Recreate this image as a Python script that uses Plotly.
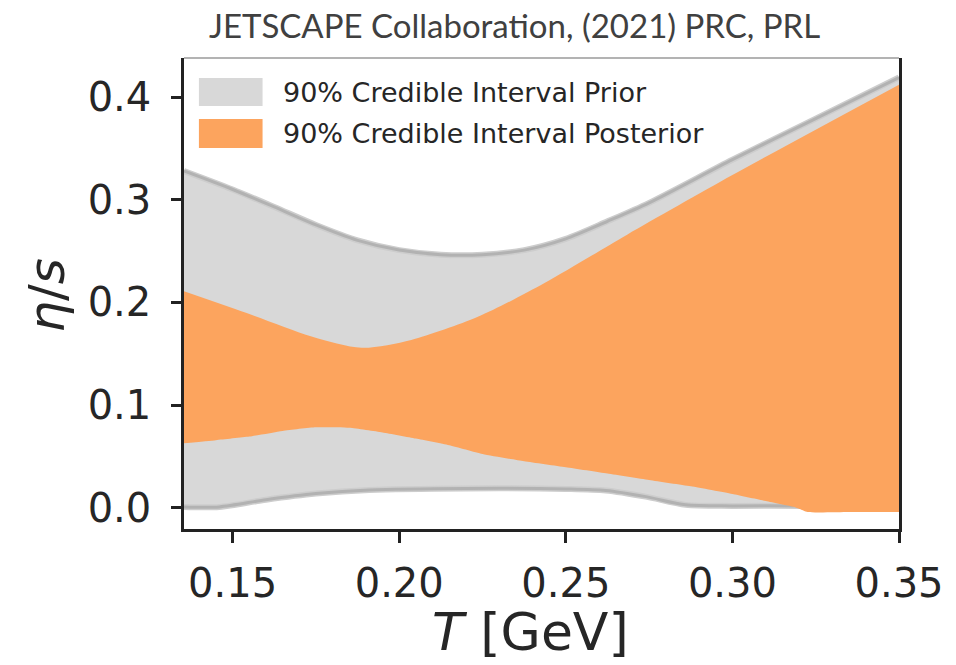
import plotly.graph_objects as go

# ---- data ----
T_prior_up = [0.1354, 0.15, 0.1625, 0.175, 0.1875, 0.20, 0.2125, 0.225, 0.2375, 0.25, 0.2625, 0.275, 0.30, 0.325, 0.35]
prior_upper = [0.328, 0.310, 0.293, 0.2755, 0.2605, 0.251, 0.2465, 0.2465, 0.251, 0.262, 0.279, 0.297, 0.339, 0.379, 0.419]

T_prior_lo = [0.1354, 0.146, 0.16, 0.175, 0.191, 0.22, 0.25, 0.262, 0.274, 0.286, 0.30, 0.32, 0.35]
prior_lower = [0.001, 0.001, 0.008, 0.014, 0.0175, 0.019, 0.0185, 0.017, 0.011, 0.003, 0.002, 0.002, 0.0]

T_post_up = [0.1354, 0.154, 0.1737, 0.1887, 0.2036, 0.2236, 0.2436, 0.2684, 0.30, 0.35]
post_upper = [0.211, 0.190, 0.167, 0.156, 0.1636, 0.186, 0.219, 0.266, 0.324, 0.412]

T_post_lo = [0.1354, 0.145, 0.155, 0.165, 0.175, 0.185, 0.195, 0.205, 0.215, 0.225, 0.2375, 0.25,
             0.2625, 0.275, 0.2875, 0.30, 0.31, 0.319, 0.3226, 0.335, 0.35]
post_lower = [0.063, 0.066, 0.0695, 0.075, 0.0785, 0.078, 0.0735, 0.0675, 0.061, 0.0525, 0.0454, 0.0396,
              0.0335, 0.0272, 0.021, 0.0135, 0.0067, 0.0005, -0.004, -0.004, -0.004]

x_ticks = [0.15, 0.20, 0.25, 0.30, 0.35]
x_ticklabels = ["0.15", "0.20", "0.25", "0.30", "0.35"]
y_ticks = [0.0, 0.1, 0.2, 0.3, 0.4]
y_ticklabels = ["0.0", "0.1", "0.2", "0.3", "0.4"]

legend_labels = ["90% Credible Interval Prior", "90% Credible Interval Posterior"]
title_text = "JETSCAPE Collaboration, (2021) PRC, PRL"

# ---- styles ----
GRAY_FILL = "#d8d8d8"
GRAY_EDGE_OUT = "#cdcdcd"
GRAY_EDGE_IN = "#b2b2b2"
ORANGE = "#fca45e"

fig = go.Figure()
fig.add_trace(go.Scatter(x=T_prior_lo, y=prior_lower, mode="lines",
                         line=dict(width=0, shape="spline", smoothing=0.8),
                         showlegend=False, hoverinfo="skip"))
fig.add_trace(go.Scatter(x=T_prior_up, y=prior_upper, mode="lines", fill="tonexty",
                         fillcolor=GRAY_FILL,
                         line=dict(width=0, shape="spline", smoothing=0.8),
                         name=legend_labels[0], showlegend=False))
for xs, ys in [(T_prior_up, prior_upper), (T_prior_lo, prior_lower)]:
    fig.add_trace(go.Scatter(x=xs, y=ys, mode="lines",
                             line=dict(width=6, color=GRAY_EDGE_OUT, shape="spline", smoothing=0.8),
                             showlegend=False, hoverinfo="skip"))
    fig.add_trace(go.Scatter(x=xs, y=ys, mode="lines",
                             line=dict(width=3, color=GRAY_EDGE_IN, shape="spline", smoothing=0.8),
                             showlegend=False, hoverinfo="skip"))
fig.add_trace(go.Scatter(x=T_post_lo, y=post_lower, mode="lines",
                         line=dict(width=0, shape="spline", smoothing=0.5),
                         showlegend=False, hoverinfo="skip"))
fig.add_trace(go.Scatter(x=T_post_up, y=post_upper, mode="lines", fill="tonexty",
                         fillcolor=ORANGE,
                         line=dict(width=0, shape="spline", smoothing=0.8),
                         name=legend_labels[1], showlegend=False))

L, R, T, B = 184, 53, 58, 136
W, H = 956, 665
pw, ph = W - L - R, H - T - B

def px(x):
    return (x - L) / pw

def py(y):
    return (H - B - y) / ph

shapes = [
    dict(type="rect", xref="paper", yref="paper", x0=px(199), x1=px(263), y0=py(106), y1=py(78),
         fillcolor=GRAY_FILL, line=dict(width=0)),
    dict(type="rect", xref="paper", yref="paper", x0=px(199), x1=px(263), y0=py(148), y1=py(119),
         fillcolor=ORANGE, line=dict(width=0)),
    dict(type="line", xref="paper", yref="paper", x0=0, x1=1, y0=1, y1=1,
         line=dict(color="#9a9a9a", width=1.5)),
]

annotations = [
    dict(text=legend_labels[0], xref="paper", yref="paper", x=px(282), y=py(92),
         xanchor="left", yanchor="middle", showarrow=False,
         font=dict(family="DejaVu Sans", size=27, color="#262626")),
    dict(text=legend_labels[1], xref="paper", yref="paper", x=px(282), y=py(133),
         xanchor="left", yanchor="middle", showarrow=False,
         font=dict(family="DejaVu Sans", size=27, color="#262626")),
    dict(text=title_text, xref="paper", yref="paper", x=px(516), y=py(25),
         xanchor="center", yanchor="middle", showarrow=False,
         font=dict(family="Lato", size=33, color="#404040")),
    dict(text="<i>T</i> [GeV]", xref="paper", yref="paper", x=px(532), y=py(632),
         xanchor="center", yanchor="middle", showarrow=False,
         font=dict(family="DejaVu Sans", size=52, color="#262626")),
    dict(text="<i>η</i>/<i>s</i>", xref="paper", yref="paper", x=px(46), y=py(295),
         xanchor="center", yanchor="middle", showarrow=False, textangle=-90,
         font=dict(family="DejaVu Sans", size=50, color="#262626")),
]

fig.update_layout(
    width=W, height=H,
    margin=dict(l=L, r=R, t=T, b=B, pad=0),
    paper_bgcolor="white", plot_bgcolor="white",
    showlegend=False,
    shapes=shapes, annotations=annotations,
    xaxis=dict(range=[0.1354, 0.35], tickvals=x_ticks, ticktext=x_ticklabels,
               showgrid=False, zeroline=False, showline=True, linecolor="#222", linewidth=2.5,
               ticks="outside", ticklen=11, tickwidth=2.5, tickcolor="#222",
               tickfont=dict(family="DejaVu Sans", size=40, color="#262626"),
               ticklabelstandoff=6),
    yaxis=dict(range=[-0.0205, 0.438], tickvals=y_ticks, ticktext=y_ticklabels,
               showgrid=False, zeroline=False, showline=True, linecolor="#222", linewidth=2.5,
               mirror=True,
               ticks="outside", ticklen=10, tickwidth=2.5, tickcolor="#222",
               tickfont=dict(family="DejaVu Sans", size=40, color="#262626"),
               ticklabelstandoff=12),
)

fig.write_html("out.html")
